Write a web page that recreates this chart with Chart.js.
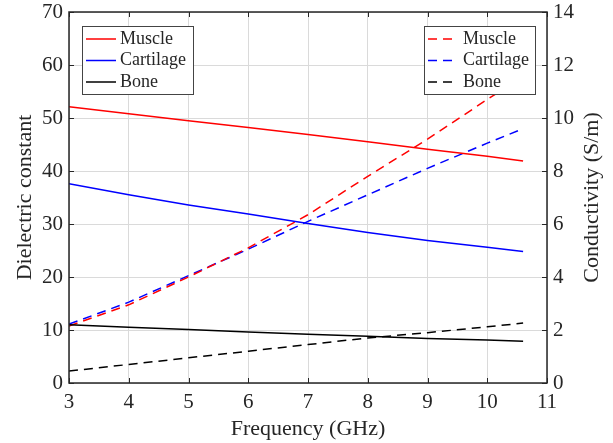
<!DOCTYPE html>
<html>
<head>
<meta charset="utf-8">
<script src="https://cdn.jsdelivr.net/npm/chart.js@4.4.1/dist/chart.umd.min.js"></script>
<style>
  html, body { margin: 0; padding: 0; background: #fff; }
  #wrap { width: 613px; height: 443px; }
</style>
</head>
<body>
<div id="wrap"><canvas id="chart"></canvas></div>
<script>
// frequency points (GHz)
const freq = [3, 4, 5, 6, 7, 8, 9, 10, 10.6];

// dielectric constant (left axis)
const muscleEps    = [52.1, 50.8, 49.5, 48.2, 46.9, 45.5, 44.1, 42.8, 41.9];
const cartilageEps = [37.6, 35.5, 33.6, 31.9, 30.1, 28.4, 26.9, 25.6, 24.8];
const boneEps      = [11.0, 10.5, 10.1, 9.6, 9.2, 8.8, 8.4, 8.1, 7.9];

// conductivity S/m (right axis)
const muscleSig    = [2.15, 2.95, 4.0, 5.1, 6.35, 7.8, 9.2, 10.7, 11.55];
const cartilageSig = [2.22, 3.05, 4.05, 5.05, 6.1, 7.1, 8.1, 9.05, 9.6];
const boneSig      = [0.45, 0.7, 0.95, 1.2, 1.45, 1.7, 1.9, 2.12, 2.26];

const tissues = ["Muscle", "Cartilage", "Bone"];
const colors = ["#ff0000", "#0000ff", "#000000"];

const serif = "'Liberation Serif', 'Times New Roman', serif";
const textCol = "#262626";
const dash = [9, 6];

const pts = arr => arr.map((v, i) => ({ x: freq[i], y: v }));

const datasets = [];
[muscleEps, cartilageEps, boneEps].forEach((arr, i) => {
  datasets.push({ label: tissues[i], data: pts(arr), yAxisID: "y",
    borderColor: colors[i], borderWidth: 1.5, pointRadius: 0, fill: false, tension: 0 });
});
[muscleSig, cartilageSig, boneSig].forEach((arr, i) => {
  datasets.push({ label: tissues[i], data: pts(arr), yAxisID: "y2",
    borderColor: colors[i], borderWidth: 1.5, borderDash: dash, pointRadius: 0, fill: false, tension: 0 });
});

// box, inward ticks, right-hand title and the two legends
const framePlugin = {
  id: "frame",
  afterDraw(chart) {
    const { ctx, chartArea: a, scales } = chart;
    ctx.save();
    ctx.strokeStyle = textCol;
    ctx.lineWidth = 1.5;
    ctx.strokeRect(a.left, a.top, a.right - a.left, a.bottom - a.top);
    ctx.lineWidth = 1;
    ctx.beginPath();
    scales.x.ticks.forEach(t => {
      const px = Math.round(scales.x.getPixelForValue(t.value)) + 0.5;
      ctx.moveTo(px, a.bottom); ctx.lineTo(px, a.bottom - 5);
      ctx.moveTo(px, a.top); ctx.lineTo(px, a.top + 5);
    });
    scales.y.ticks.forEach(t => {
      const py = Math.round(scales.y.getPixelForValue(t.value)) + 0.5;
      ctx.moveTo(a.left, py); ctx.lineTo(a.left + 5, py);
      ctx.moveTo(a.right, py); ctx.lineTo(a.right - 5, py);
    });
    ctx.stroke();

    // right axis title reads bottom-to-top like the left one
    ctx.save();
    ctx.translate(592, (a.top + a.bottom) / 2);
    ctx.rotate(-Math.PI / 2);
    ctx.font = "22px " + serif;
    ctx.fillStyle = textCol;
    ctx.textAlign = "center";
    ctx.textBaseline = "middle";
    ctx.fillText("Conductivity (S/m)", 0, 0);
    ctx.restore();

    const drawLegend = (x0, y0, dashed) => {
      const w = 111, h = 68;
      ctx.fillStyle = "#fff";
      ctx.fillRect(x0, y0, w, h);
      ctx.strokeStyle = "#444";
      ctx.lineWidth = 1;
      ctx.strokeRect(x0 + 0.5, y0 + 0.5, w, h);
      ctx.font = "18px " + serif;
      ctx.textBaseline = "middle";
      ctx.textAlign = "left";
      tissues.forEach((name, i) => {
        const yy = y0 + 13 + i * 21.5;
        ctx.strokeStyle = colors[i];
        ctx.lineWidth = 1.5;
        ctx.setLineDash(dashed ? dash : []);
        ctx.beginPath();
        ctx.moveTo(x0 + 4, yy); ctx.lineTo(x0 + 34, yy);
        ctx.stroke();
        ctx.setLineDash([]);
        ctx.fillStyle = textCol;
        ctx.fillText(name, dashed ? x0 + 39 : x0 + 38, yy);
      });
    };
    drawLegend(a.left + 13, a.top + 14, false);
    drawLegend(a.right - 123, a.top + 14, true);
    ctx.restore();
  }
};

const noPad = s => { s.paddingTop = 0; s.paddingBottom = 0; s.paddingLeft = 0; s.paddingRight = 0; };

new Chart(document.getElementById("chart"), {
  type: "line",
  data: { datasets },
  options: {
    responsive: true,
    maintainAspectRatio: false,
    animation: false,
    layout: { padding: { top: 12, left: 0, right: 0, bottom: 0 } },
    plugins: { legend: { display: false }, tooltip: { enabled: false } },
    scales: {
      x: {
        type: "linear", min: 3, max: 11,
        afterFit: s => { s.height = 60; noPad(s); },
        ticks: { stepSize: 1, color: textCol, font: { family: serif, size: 21 }, padding: 7, maxRotation: 0 },
        grid: { color: "#dadada", drawTicks: false },
        border: { display: false },
        title: { display: true, text: "Frequency (GHz)", color: textCol, font: { family: serif, size: 22 }, padding: { top: 0, bottom: 1 } }
      },
      y: {
        position: "left", min: 0, max: 70,
        afterFit: s => { s.width = 69; noPad(s); },
        ticks: { stepSize: 10, color: textCol, font: { family: serif, size: 21 }, padding: 6 },
        grid: { color: "#dadada", drawTicks: false },
        border: { display: false },
        title: { display: true, text: "Dielectric constant", color: textCol, font: { family: serif, size: 22 }, padding: { top: 12, bottom: 0 } }
      },
      y2: {
        position: "right", min: 0, max: 14,
        afterFit: s => { s.width = 66; noPad(s); },
        ticks: { stepSize: 2, color: textCol, font: { family: serif, size: 21 }, padding: 6 },
        grid: { drawOnChartArea: false, drawTicks: false },
        border: { display: false }
      }
    }
  },
  plugins: [framePlugin]
});
</script>
</body>
</html>
